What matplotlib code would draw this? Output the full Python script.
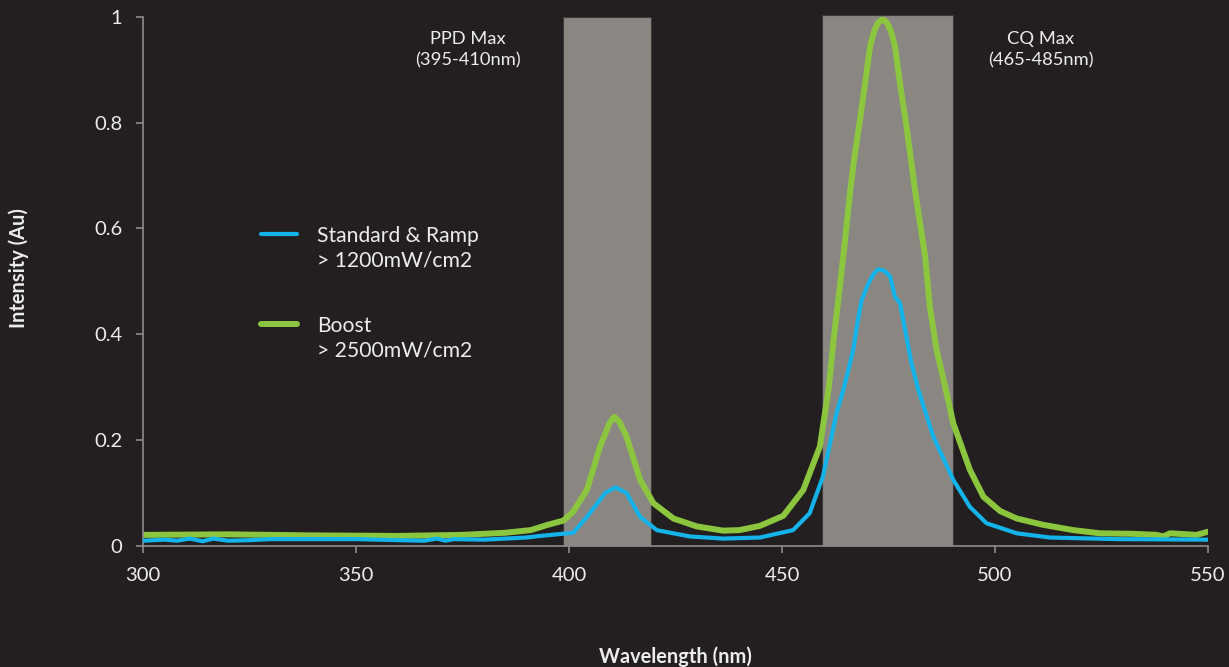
import numpy as np
import matplotlib
matplotlib.use('Agg')
import matplotlib.pyplot as plt
from matplotlib.patches import Rectangle

# ── data ───────────────────────────────────────────────────────────────
boost_nm = [300, 320, 340, 360, 375, 385, 391, 395, 398.7, 401, 404.2, 407.3,
            409.5, 410.6, 411.8, 413.5, 416.7, 419.8, 424.5, 430, 436.2, 440,
            444.8, 450.3, 455, 458.9, 461, 462.1, 463.5, 464.8, 466, 466.9,
            468.2, 469.5, 470.7, 471.6, 472.5, 473.6, 474.7, 475.6, 476.5,
            477.7, 479.1, 480.3, 481.2, 482.4, 483.6, 484.7, 486.3, 488.3,
            490.2, 494.1, 497.3, 501.2, 505.1, 511.3, 518.4, 524.6, 532.5,
            538, 539.5, 541.1, 547.3, 550]
boost_int = [0.021, 0.022, 0.020, 0.019, 0.021, 0.025, 0.030, 0.040, 0.048,
             0.065, 0.106, 0.188, 0.232, 0.244, 0.235, 0.207, 0.125, 0.081,
             0.052, 0.037, 0.029, 0.030, 0.038, 0.057, 0.106, 0.188, 0.300,
             0.389, 0.484, 0.578, 0.670, 0.729, 0.799, 0.874, 0.945, 0.972,
             0.988, 0.996, 0.988, 0.972, 0.945, 0.874, 0.799, 0.729, 0.673,
             0.610, 0.547, 0.452, 0.370, 0.301, 0.232, 0.144, 0.093, 0.066,
             0.052, 0.040, 0.030, 0.024, 0.023, 0.021, 0.018, 0.024, 0.021,
             0.027]

std_nm = [300, 305, 308, 311, 314, 316.5, 320, 325, 330, 340, 350, 360, 366,
          369, 371, 373, 380, 390, 393.2, 401, 404.2, 408.5, 410.9, 413.5,
          416.7, 420.6, 428.4, 436.2, 444.8, 452.6, 456.5, 459.6, 462.8,
          464.4, 465.6, 466.7, 467.7, 468.7, 470.3, 471.5, 472.6, 474, 475.4,
          476.5, 477.7, 478.9, 480.4, 482.0, 485.5, 490.2, 494.1, 498.0,
          505.1, 512.9, 528.6, 550]
std_int = [0.010, 0.012, 0.010, 0.014, 0.009, 0.014, 0.010, 0.011, 0.013,
           0.013, 0.013, 0.011, 0.010, 0.014, 0.010, 0.013, 0.012, 0.016,
           0.019, 0.025, 0.055, 0.100, 0.111, 0.100, 0.055, 0.030, 0.018,
           0.014, 0.016, 0.030, 0.062, 0.131, 0.251, 0.295, 0.333, 0.370,
           0.421, 0.465, 0.496, 0.514, 0.523, 0.520, 0.509, 0.471, 0.459,
           0.408, 0.345, 0.295, 0.207, 0.125, 0.074, 0.043, 0.024, 0.016,
           0.013, 0.012]

# shaded bands (nm) as drawn
band_lo = [398.7, 459.3]
band_hi = [419.2, 490.1]
band_top = [1.0, 1.004]
band_labels = ['PPD Max\n(395-410nm)', 'CQ Max\n(465-485nm)']
band_label_x = [376.3, 510.7]

series_labels = ['Standard & Ramp\n> 1200mW/cm2', 'Boost\n> 2500mW/cm2']

BG = '#231f20'
FG = '#ececec'
AXC = '#8c8c8c'
BLUE = '#14b4ea'
GREEN = '#8cc63f'

plt.rcParams['font.family'] = ['Lato', 'DejaVu Sans']

fig = plt.figure(figsize=(12.29, 6.67), dpi=100, facecolor=BG)
ax = fig.add_axes([143/1229, 1 - 546/667, (1208 - 143)/1229, (546 - 16.7)/667])
ax.set_facecolor(BG)

for lo, hi, top in zip(band_lo, band_hi, band_top):
    ax.add_patch(Rectangle((lo, 0), hi - lo, top, facecolor='#8a8782',
                           edgecolor='#3a3a3a', lw=0.8, zorder=1, clip_on=False))

ax.plot(std_nm, std_int, color=BLUE, lw=3.0, solid_capstyle='round',
        solid_joinstyle='round', zorder=3)
ax.plot(boost_nm, boost_int, color=GREEN, lw=4.3, solid_capstyle='round',
        solid_joinstyle='round', zorder=2)

for x, t in zip(band_label_x, band_labels):
    ax.text(x, 0.938, t, ha='center', va='center', color=FG, fontsize=13.2,
            linespacing=1.4)

# hand-placed legend
for (ly, col, lw), lab in zip([(0.590, BLUE, 3.0), (0.420, GREEN, 4.3)], series_labels):
    ax.plot([0.111, 0.145], [ly, ly], transform=ax.transAxes, color=col, lw=lw,
            solid_capstyle='round', clip_on=False)
    ax.text(0.1634, ly + 0.014, lab, transform=ax.transAxes, ha='left', va='top',
            color=FG, fontsize=15.2, linespacing=1.25)

ax.set_xlim(300, 550)
ax.set_ylim(0, 1)
ax.set_xticks([300, 350, 400, 450, 500, 550])
ax.set_yticks([0, 0.2, 0.4, 0.6, 0.8, 1])
ax.set_yticklabels(['0', '0.2', '0.4', '0.6', '0.8', '1'])

for s in ['top', 'right']:
    ax.spines[s].set_visible(False)
for s in ['left', 'bottom']:
    ax.spines[s].set_color(AXC)
    ax.spines[s].set_linewidth(1.2)
ax.tick_params(colors=AXC, labelcolor=FG, labelsize=14.6, length=5, width=1.2)
ax.tick_params(axis='y', pad=10)
ax.tick_params(axis='x', pad=10)

ax.set_xlabel('Wavelength (nm)', color=FG, fontsize=14.4, fontweight='bold')
ax.xaxis.set_label_coords(0.5, -0.189)
ax.set_ylabel('Intensity (Au)', color=FG, fontsize=14.4, fontweight='bold')
ax.yaxis.set_label_coords(-0.107, 0.525)

fig.savefig('out.png', dpi=100, facecolor=BG)
